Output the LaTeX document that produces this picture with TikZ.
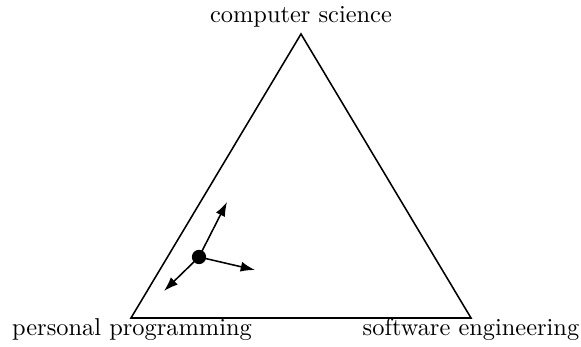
\documentclass[tikz,border=0pt]{standalone}
\usetikzlibrary{arrows.meta}
\begin{document}
\begin{tikzpicture}[x=0.42pt,y=-0.42pt,
  edge/.style={line width=0.65pt},
  push/.style={line width=0.65pt,-{Latex[length=6pt,width=4.2pt]}},
  lbl/.style={inner sep=0pt,anchor=base,scale=1.025}]
\useasboundingbox (0,0) rectangle (581,347);
% corners of the triangle
\coordinate (cs) at (301,34);
\coordinate (pp) at (131,318);
\coordinate (se) at (471,318);
\draw[edge,line join=miter] (cs) -- (pp) -- (se) -- cycle;
% corner labels
\node[lbl] (lcs) at (301,23) {computer science};
\node[lbl] (lpp) at (132,336) {personal programming};
\node[lbl] (lse) at (471,336) {software engineering};
% position inside the triangle and the forces on it
\node[circle,fill,inner sep=0pt,minimum size=6pt] (pos) at (199,257) {};
\coordinate (f1) at (227,202);
\coordinate (f2) at (255,270);
\coordinate (f3) at (164,291);
\draw[push] (pos.center) -- (f1);
\draw[push] (pos.center) -- (f2);
\draw[push] (pos.center) -- (f3);
\end{tikzpicture}
\end{document}
